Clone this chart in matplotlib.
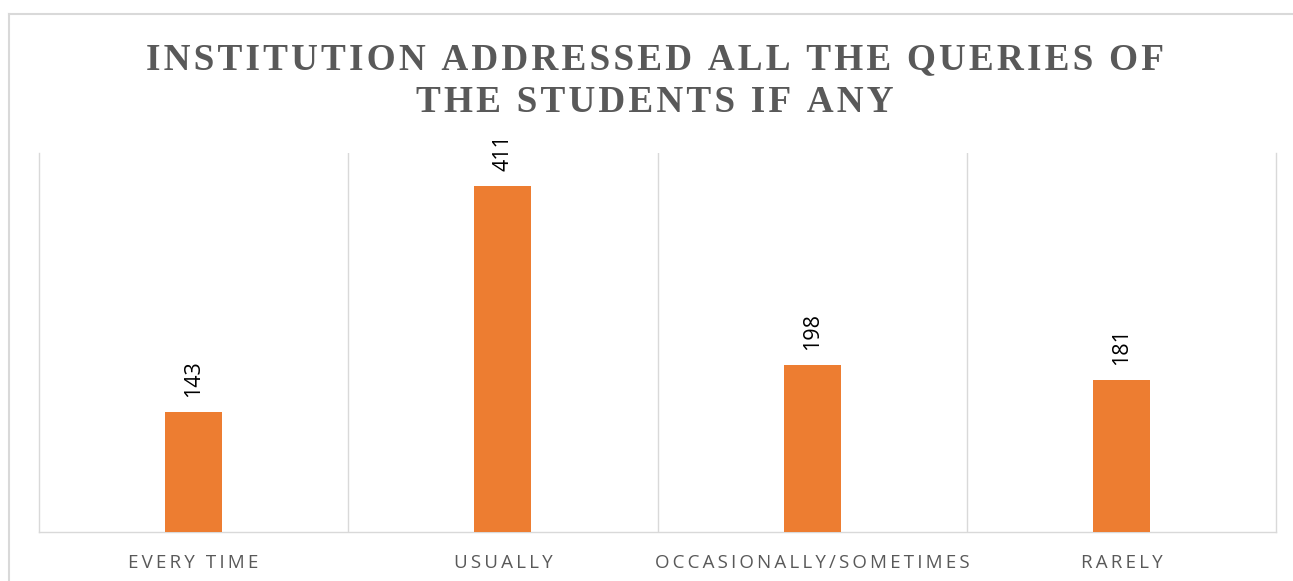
import matplotlib.pyplot as plt
from matplotlib.lines import Line2D

title_lines = ["INSTITUTION ADDRESSED ALL THE QUERIES OF", "THE STUDENTS IF ANY"]
categories = ["EVERY TIME", "USUALLY", "OCCASIONALLY/SOMETIMES", "RARELY"]
counts = [143, 411, 198, 181]

GRAY = "#595959"
GRID = "#d9d9d9"
ORANGE = "#ED7D31"


def spaced(s, gap="\u200a"):
    # fake letter spacing, the original uses tracked caps
    return gap.join(s)


fig = plt.figure(figsize=(12.93, 5.81), dpi=100)
W, H = 1293, 581

# outer chart border (only top and left edges are visible)
fig.add_artist(Line2D([9 / W, 1], [1 - 14 / H, 1 - 14 / H], color=GRID, lw=1.5))
fig.add_artist(Line2D([9 / W, 9 / W], [0, 1 - 14 / H], color=GRID, lw=1.5))

ax = fig.add_axes([39 / W, 1 - 532 / H, (1276 - 39) / W, (532 - 153) / H])
x = range(len(categories))
bars = ax.bar(x, counts, width=0.184, color=ORANGE, zorder=3)

ax.set_xlim(-0.5, len(categories) - 0.5)
ax.set_ylim(0, 450)
ax.set_yticks([])
ax.set_xticks(list(x))
ax.set_xticklabels([spaced(c, "\u2009") for c in categories],
                   family=["Open Sans", "DejaVu Sans"], fontsize=13.5, color=GRAY)
ax.tick_params(axis="x", length=0, pad=15.5)
ax.set_xticks([i + 0.5 for i in range(len(categories) - 1)], minor=True)
ax.tick_params(axis="x", which="minor", length=0)
ax.grid(True, which="minor", axis="x", color=GRID, lw=1)

for side in ["left", "right", "bottom"]:
    ax.spines[side].set_color(GRID)
    ax.spines[side].set_linewidth(1)
ax.spines["top"].set_visible(False)

for b, v in zip(bars, counts):
    ax.annotate(str(v), (b.get_x() + b.get_width() / 2, v), xytext=(0, 15),
                textcoords="offset pixels", rotation=90, ha="center", va="bottom",
                fontsize=15.5, family="Open Sans", color="black")

for line, base in zip(title_lines, [69, 112]):
    fig.text(655 / W, 1 - base / H, spaced(line), ha="center", va="baseline",
             family=["Liberation Serif", "DejaVu Serif"], weight="bold",
             fontsize=26.8, color=GRAY)

fig.savefig("out.png", dpi=100)
